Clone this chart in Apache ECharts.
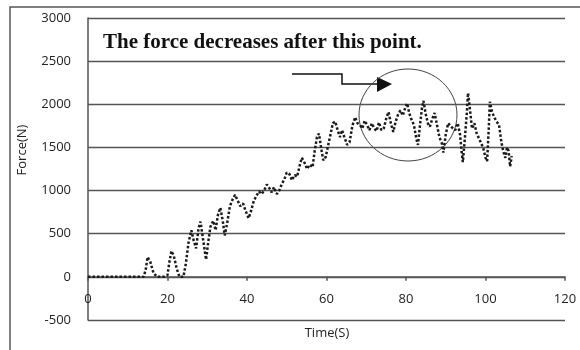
<!DOCTYPE html>
<html style="height: 100%">
<head>
<meta charset="utf-8">
<script type="text/javascript" src="https://cdn.jsdelivr.net/npm/echarts@6/dist/echarts.min.js"></script>
<script type="text/javascript">
// time (s) and force (N)
var TIME = [0, 2, 4, 6, 8, 10, 12, 14, 14.5, 15, 15.7, 16.5, 17.5, 19, 20, 20.5, 21, 21.6, 22.3, 23, 24,
    24.6, 25.3, 26, 26.6, 27.2, 27.8, 28.3, 28.9, 29.7, 30.3, 30.8, 31.5, 32.1, 32.7, 33.3, 33.9, 34.4, 35,
    35.7, 36.4, 37, 37.7, 38.3, 39, 39.7, 40.4, 41, 41.7, 42.4, 43, 43.7, 44.4, 45, 45.6, 46.2, 46.8, 47.5,
    48.1, 48.8, 49.4, 50, 50.7, 51.3, 52, 52.6, 53.2, 53.8, 54.5, 55.1, 55.8, 56.5, 57, 57.6, 58.1, 58.7,
    59.2, 59.8, 60.4, 61, 61.6, 62.2, 62.8, 63.4, 63.9, 64.5, 65.2, 65.8, 66.5, 67.2, 67.8, 68.4, 69, 69.6,
    70.2, 70.8, 71.4, 72, 72.6, 73.2, 73.8, 74.4, 75, 75.6, 76.2, 76.8, 77.4, 78, 78.6, 79.2, 79.8, 80.3,
    80.8, 81.4, 82, 82.6, 83, 83.5, 84, 84.4, 84.9, 85.5, 86, 86.6, 87.2, 87.8, 88.4, 89, 89.4, 90, 90.6,
    91.2, 91.8, 92.4, 93, 93.6, 94, 94.3, 94.8, 95.3, 95.6, 96, 96.6, 97.2, 97.8, 98.4, 99, 99.5, 100,
    100.4, 100.8, 101.1, 101.6, 102.2, 102.8, 103.4, 104, 104.5, 105, 105.4, 105.8, 106.2, 106.6];
var FORCE = [0, 0, 0, 0, 0, 0, 0, 0, 80, 230, 170, 40, 0, 0, 20, 180, 300, 240, 100, 0, 0,
    150, 400, 540, 420, 330, 560, 640, 450, 200, 420, 580, 650, 540, 720, 800, 650, 480, 620,
    820, 900, 950, 880, 820, 850, 760, 680, 760, 880, 940, 990, 960, 1010, 1070, 1030, 980, 1040, 960,
    1000, 1080, 1130, 1210, 1190, 1120, 1180, 1160, 1280, 1380, 1320, 1250, 1300, 1270, 1450, 1620, 1660, 1480,
    1350, 1390, 1520, 1650, 1780, 1800, 1700, 1620, 1700, 1620, 1530, 1560, 1750, 1850, 1780, 1760, 1720, 1810,
    1760, 1700, 1780, 1720, 1690, 1790, 1700, 1720, 1830, 1910, 1780, 1680, 1800, 1880, 1930, 1870, 1960, 2010,
    1900, 1820, 1760, 1600, 1530, 1750, 1950, 2040, 1900, 1780, 1740, 1830, 1900, 1760, 1620, 1550, 1440, 1650, 1780,
    1750, 1720, 1700, 1780, 1650, 1450, 1330, 1600, 1900, 2130, 1980, 1720, 1780, 1660, 1600, 1540, 1480, 1380,
    1340, 1700, 2030, 1920, 1850, 1800, 1760, 1560, 1450, 1380, 1500, 1460, 1280, 1400];

var X_MIN = 0, X_MAX = 120, X_STEP = 20;
var Y_MIN = -500, Y_MAX = 3000, Y_STEP = 500;

function getOption()
{
    var pts = [];
    for (var i = 0; i < TIME.length; i++) {
        pts.push([TIME[i], FORCE[i]]);
    }
    var txt = {color: '#222', fontFamily: 'Open Sans', fontSize: 13};
    var option = {
        backgroundColor: '#fff',
        animation: false,
        grid: {left: 88, right: 15, top: 18, bottom: 30, containLabel: false, outerBoundsMode: 'none'},
        xAxis: {
            type: 'value', min: X_MIN, max: X_MAX, interval: X_STEP,
            axisLine: {onZero: true, lineStyle: {color: '#555', width: 1.5}},
            axisTick: {show: true, length: 4, lineStyle: {color: '#555', width: 1.5}},
            // labels stay at the grid bottom in v6, so pull them up under the zero line
            axisLabel: {margin: -27, color: txt.color, fontFamily: txt.fontFamily, fontSize: txt.fontSize,
                        formatter: function (v) { return String(v); }},
            splitLine: {show: false}
        },
        yAxis: {
            type: 'value', min: Y_MIN, max: Y_MAX, interval: Y_STEP,
            axisLine: {show: true, onZero: false, lineStyle: {color: '#555', width: 1.5}},
            axisTick: {show: false},
            axisLabel: {margin: 17, color: txt.color, fontFamily: txt.fontFamily, fontSize: txt.fontSize,
                        formatter: function (v) { return String(v); }},
            splitLine: {show: true, lineStyle: {color: '#555', width: 1.4}}
        },
        graphic: [
            {type: 'rect', shape: {x: 10, y: 7, width: 600, height: 400}, style: {fill: null, stroke: '#555', lineWidth: 1.5}, z: -1},
            {type: 'text', x: 22, y: 150, rotation: Math.PI / 2,
             style: {text: 'Force(N)', fill: '#222', font: '13px "Open Sans"', align: 'center', verticalAlign: 'middle'}},
            {type: 'text', x: 327, y: 333,
             style: {text: 'Time(S)', fill: '#222', font: '13px "Open Sans"', align: 'center', verticalAlign: 'middle'}},
            {type: 'text', x: 103, y: 43,
             style: {text: 'The force decreases after this point.', fill: '#111', font: 'bold 21px "Liberation Serif"', verticalAlign: 'middle'}},
            {type: 'polyline', shape: {points: [[292, 74], [342, 74], [342, 84], [378, 84]]},
             style: {stroke: '#111', lineWidth: 1.5, fill: null}},
            {type: 'polygon', shape: {points: [[377, 77], [392, 84], [377, 92]]}, style: {fill: '#111'}},
            {type: 'ellipse', shape: {cx: 408, cy: 115, rx: 49, ry: 46}, style: {fill: null, stroke: '#444', lineWidth: 1}}
        ],
        series: [{
            type: 'line',
            data: pts,
            showSymbol: false,
            lineStyle: {color: '#1a1a1a', width: 2.5, type: [2.5, 2]}
        }]
    };
    return option;
}
</script>
</head>
<body style="height: 100%; margin: 0">
<div id="container" style="width: 580px; height: 350px"></div>
<script type="text/javascript">
var myChart = echarts.init(document.getElementById('container'));
myChart.setOption(getOption(), true);
</script>
</body>
</html>
